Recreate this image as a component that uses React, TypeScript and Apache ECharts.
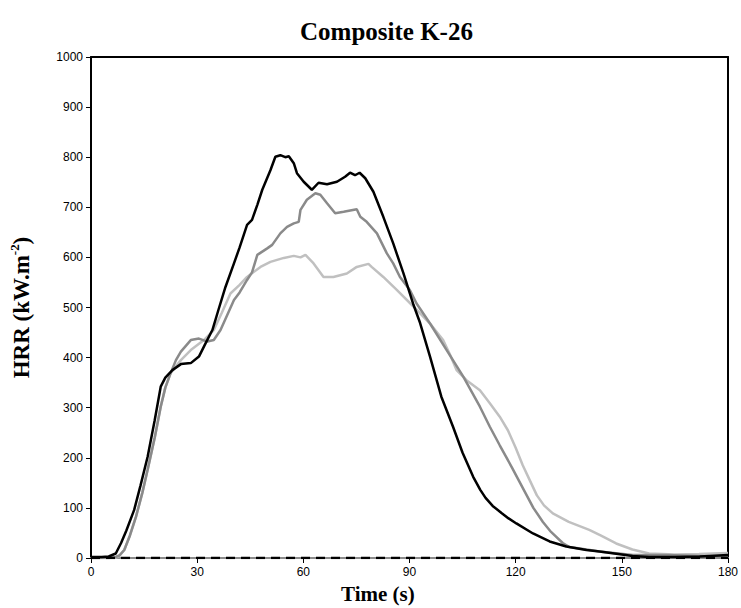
import React, { useEffect, useRef } from "react";
import * as echarts from "echarts";

const title = "Composite K-26";
const xName = "Time (s)";
const xTicks = [0, 30, 60, 90, 120, 150, 180];

const blackT = [0, 3, 5, 7, 8.5, 10, 12.2, 14, 16, 18, 19.7, 21, 23, 25.4, 28.2, 30.5, 32.4, 34.3, 36, 38, 40.4, 42, 44.1, 45.5, 47, 48.4, 50.7, 52.1, 53.5, 54.9, 55.9, 57.3, 58.2, 60.1, 62.4, 64.3, 66.7, 69.5, 71.8, 73.2, 74.6, 75.9, 77.5, 79.8, 82.6, 85.4, 88.3, 91, 93, 95.8, 99, 102.3, 105, 108, 110, 111.5, 113.5, 116, 118, 120.2, 124.9, 129.6, 134.3, 140, 143.7, 150, 153, 157.7, 165, 172, 180];
const blackV = [2, 2, 3, 9, 30, 55, 96, 145, 202, 275, 342, 360, 375, 387, 389, 402, 429, 455, 495, 541, 588, 620, 665, 675, 705, 735, 774, 801, 804, 800, 802, 788, 768, 751, 735, 749, 746, 751, 761, 769, 764, 769, 758, 731, 681, 628, 568, 508, 469, 402, 322, 262, 210, 162, 136, 120, 104, 90, 79, 69, 49, 33, 23, 16, 13, 7, 4, 2, 2, 3, 6];

const darkT = [0, 5, 7, 8, 9.4, 11, 12.7, 14.5, 16, 18, 19.7, 21, 22.5, 24, 25.4, 28.2, 30.5, 32.9, 34.7, 36.6, 38.5, 40.4, 42, 44.1, 45.5, 47, 49.8, 51.2, 53.5, 55.4, 57.3, 58.7, 59.2, 61, 63.4, 64.8, 66.7, 69, 71.4, 75.1, 76.1, 77.9, 80.8, 83.6, 85.4, 87.3, 90.1, 92, 95.8, 100.5, 105.2, 109.9, 112.7, 115.5, 119, 122, 125, 127.7, 130, 133.3, 135.2, 140, 143.7, 153, 162.4, 171.8, 180];
const darkV = [0, 0, 2, 5, 16, 45, 82, 130, 176, 240, 302, 340, 369, 395, 412, 435, 438, 432, 435, 455, 485, 515, 530, 555, 570, 605, 618, 625, 648, 661, 668, 671, 695, 715, 728, 725, 708, 688, 691, 696, 681, 671, 648, 608, 588, 561, 535, 508, 468, 415, 362, 302, 262, 225, 180, 140, 100, 72, 52, 30, 22, 17, 13, 6, 6, 4, 2];

const lightT = [0, 5, 7, 8, 9.4, 11, 12.7, 14.5, 16, 18, 19.7, 21, 22.5, 25.4, 28.2, 31.9, 34.7, 37, 39.4, 42, 44.1, 47.9, 50.7, 54.5, 57.3, 59.2, 60.6, 62.9, 65.7, 68.5, 72.3, 75.1, 78.4, 79.3, 82.6, 86.4, 91.1, 95.8, 99.5, 101.5, 103.3, 106.1, 109.9, 112.7, 115.5, 117.8, 120, 122, 124, 126, 128, 130.5, 135, 140.8, 144, 148.4, 153, 157.7, 165, 171.8, 180];
const lightV = [0, 0, 1, 4, 16, 45, 82, 130, 176, 240, 302, 340, 369, 395, 415, 435, 455, 490, 528, 545, 561, 581, 591, 599, 603, 600, 605, 588, 561, 561, 568, 581, 587, 581, 561, 535, 502, 468, 435, 405, 375, 355, 335, 309, 282, 255, 220, 185, 155, 125, 105, 89, 72, 56, 45, 29, 17, 9, 7, 8, 10];

const baseT = [0, 180];
const baseV = [0, 0];

const pairs = (t: number[], v: number[]) => t.map((x, i) => [x, v[i]]);

export default function App() {
  const ref = useRef<HTMLDivElement>(null);
  useEffect(() => {
    if (!ref.current) return;
    const chart = echarts.init(ref.current, null, { renderer: "svg" });
    const serif = "'Liberation Serif', 'Times New Roman', serif";
    const sans = "'Liberation Sans', Arial, sans-serif";
    chart.setOption({
      animation: false,
      backgroundColor: "#ffffff",
      title: {
        text: title,
        left: 295,
        top: 14,
        textStyle: { fontFamily: serif, fontWeight: "bold", fontSize: 25, color: "#000" },
      },
      grid: { left: 90, right: 12, top: 57, bottom: 50, show: false },
      xAxis: [
        {
          type: "value",
          min: 0,
          max: 180,
          interval: 30,
          position: "bottom",
          axisLine: { show: true, onZero: false, lineStyle: { color: "#8c8c8c", width: 2 } },
          axisTick: { show: true, length: 5, lineStyle: { color: "#000", width: 1 } },
          axisLabel: { color: "#000", fontFamily: sans, fontSize: 12, margin: 8,
            formatter: (v: number) => (xTicks.includes(v) ? String(v) : "") },
          splitLine: { show: false },
        },
        {
          type: "value",
          min: 0,
          max: 180,
          position: "top",
          axisLine: { show: true, onZero: false, lineStyle: { color: "#000", width: 2 } },
          axisTick: { show: false },
          axisLabel: { show: false },
          splitLine: { show: false },
        },
      ],
      yAxis: [
        {
          type: "value",
          min: 0,
          max: 1000,
          interval: 100,
          axisLine: { show: true, onZero: false, lineStyle: { color: "#000", width: 2 } },
          axisTick: { show: true, length: 5, lineStyle: { color: "#000", width: 1 } },
          axisLabel: { color: "#000", fontFamily: sans, fontSize: 12, margin: 8,
            formatter: (v: number) => String(v) },
          splitLine: { show: false },
          name: "{a|HRR (kW.m}{s|-2}{a|)}",
          nameLocation: "middle",
          nameGap: 57,
          nameRotate: 90,
          nameTextStyle: {
            rich: {
              a: { fontFamily: serif, fontWeight: "bold", fontSize: 23, color: "#000", lineHeight: 26 },
              s: { fontFamily: serif, fontWeight: "bold", fontSize: 13, color: "#000", verticalAlign: "top", lineHeight: 26, padding: [0, 0, 10, 0] },
            },
          },
        },
        {
          type: "value",
          min: 0,
          max: 1000,
          position: "right",
          axisLine: { show: true, onZero: false, lineStyle: { color: "#000", width: 2 } },
          axisTick: { show: false },
          axisLabel: { show: false },
          splitLine: { show: false },
        },
      ],
      graphic: [
        {
          type: "text",
          left: 341,
          top: 583,
          style: { text: xName, fontFamily: serif, fontWeight: "bold", fontSize: 21, fill: "#000" },
        },
      ],
      series: [
        {
          type: "line",
          name: "C",
          data: pairs(lightT, lightV),
          showSymbol: false,
          lineStyle: { color: "#c0c0c0", width: 2.5 },
          z: 2,
        },
        {
          type: "line",
          name: "B",
          data: pairs(darkT, darkV),
          showSymbol: false,
          lineStyle: { color: "#8a8a8a", width: 2.5 },
          z: 3,
        },
        {
          type: "line",
          name: "A",
          data: pairs(blackT, blackV),
          showSymbol: false,
          lineStyle: { color: "#000", width: 2.5 },
          z: 4,
        },
        {
          type: "line",
          name: "base",
          data: pairs(baseT, baseV),
          showSymbol: false,
          lineStyle: { color: "#000", width: 2.5, type: [9, 6] },
          z: 5,
        },
      ],
    });
    return () => chart.dispose();
  }, []);
  return <div ref={ref} style={{ width: 741, height: 608, position: "absolute", left: 0, top: 0 }} />;
}
